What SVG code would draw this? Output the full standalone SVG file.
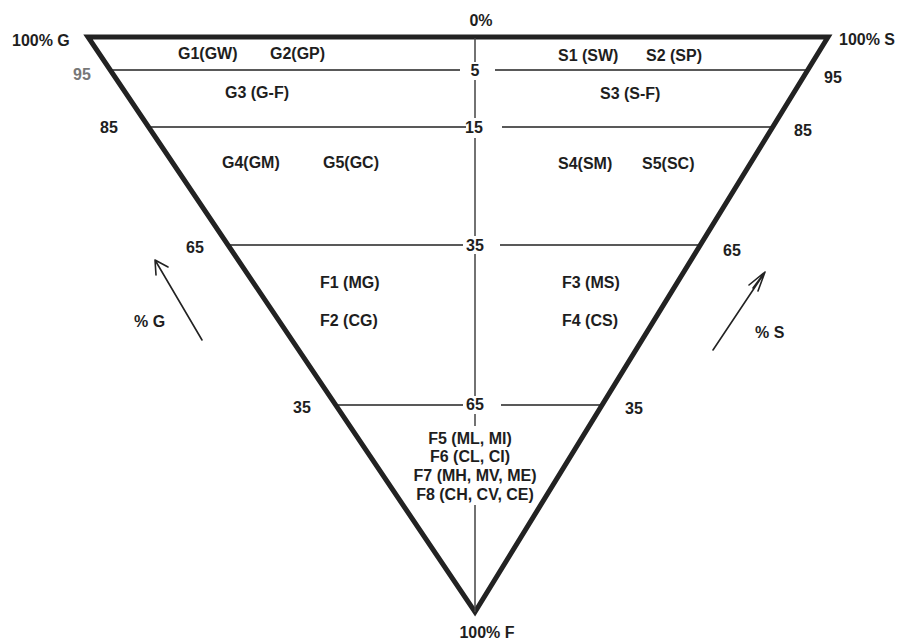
<svg xmlns="http://www.w3.org/2000/svg" width="897" height="641" viewBox="0 0 897 641">
<style>
text{font-family:"Liberation Sans",Arial,sans-serif;font-size:16px;font-weight:bold;fill:#1e1e1e}
.m{text-anchor:middle}
.g{fill:#777}
.thin{stroke:#222;stroke-width:1.5;fill:none}
.vert{stroke:#444;stroke-width:1.5;fill:none}
.edge{stroke:#222;stroke-width:5;fill:none;stroke-linejoin:miter}
.arr{stroke:#222;stroke-width:1.6;fill:none;stroke-linecap:round}
</style>
<rect width="897" height="641" fill="#fff"/>
<g id="triangle">
<polygon class="edge" points="88,37 828,37 475,612"/>
</g>
<g id="connectors">
<line class="thin" x1="110" y1="70" x2="460" y2="70"/>
<line class="thin" x1="495" y1="70" x2="808" y2="70"/>
<line class="thin" x1="148" y1="127" x2="466" y2="127"/>
<line class="thin" x1="502" y1="127" x2="773" y2="127"/>
<line class="thin" x1="228" y1="245" x2="463" y2="245"/>
<line class="thin" x1="500" y1="245" x2="701" y2="245"/>
<line class="thin" x1="335" y1="405" x2="463" y2="405"/>
<line class="thin" x1="501" y1="405" x2="602" y2="405"/>
<path class="vert" d="M475,38V62M475,80V118M475,138V236M475,254V396M475,414V426M475,505V612"/>
<path class="arr" d="M202,340L155,260M155,260L156,275M155,260L168,267"/>
<path class="arr" d="M713,350L765,272M765,272L749,285M765,272L758,291M765,272L753,288"/>
</g>
<g id="axis-labels">
<text class="m" x="481" y="26">0%</text>
<text x="12" y="46">100% G</text>
<text x="839" y="45">100% S</text>
<text class="m" x="487" y="638">100% F</text>
<text class="g" x="73" y="80">95</text>
<text x="100" y="133">85</text>
<text x="186" y="253">65</text>
<text x="293" y="413">35</text>
<text x="824" y="83">95</text>
<text x="794" y="136">85</text>
<text x="723" y="256">65</text>
<text x="625" y="414">35</text>
<text class="m" x="475" y="76">5</text>
<text class="m" x="474" y="133">15</text>
<text class="m" x="475" y="251">35</text>
<text class="m" x="475" y="410">65</text>
<text x="134" y="327">% G</text>
<text x="755" y="338">% S</text>
</g>
<g id="gravel">
<text x="178" y="59">G1(GW)</text>
<text x="270" y="59">G2(GP)</text>
<text x="225" y="98">G3 (G-F)</text>
<text x="222" y="168">G4(GM)</text>
<text x="323" y="168">G5(GC)</text>
</g>
<g id="sand">
<text x="558" y="61">S1 (SW)</text>
<text x="646" y="61">S2 (SP)</text>
<text x="600" y="99">S3 (S-F)</text>
<text x="558" y="169">S4(SM)</text>
<text x="642" y="169">S5(SC)</text>
</g>
<g id="fines-coarse">
<text x="320" y="288">F1 (MG)</text>
<text x="320" y="326">F2 (CG)</text>
<text x="562" y="288">F3 (MS)</text>
<text x="562" y="326">F4 (CS)</text>
</g>
<g id="fines">
<text class="m" x="470" y="444">F5 (ML, MI)</text>
<text class="m" x="470" y="462">F6 (CL, CI)</text>
<text class="m" x="475" y="481">F7 (MH, MV, ME)</text>
<text class="m" x="475" y="500">F8 (CH, CV, CE)</text>
</g>
</svg>
